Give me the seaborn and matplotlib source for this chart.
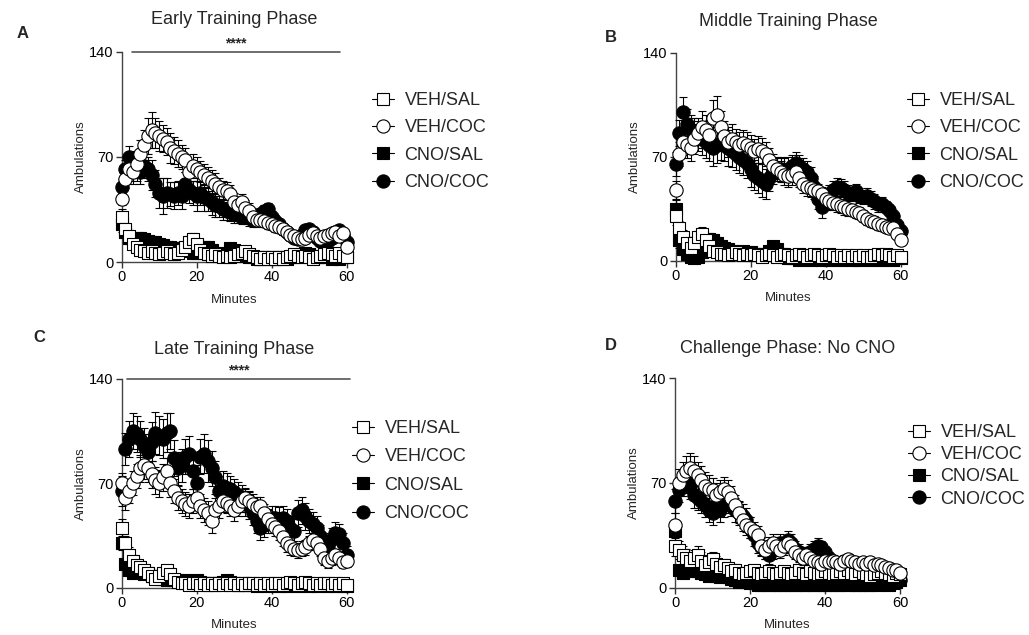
import numpy as np
import pandas as pd
import matplotlib
matplotlib.use("Agg")
import matplotlib.pyplot as plt
from matplotlib.lines import Line2D
import seaborn as sns

# ------------------------------------------------------------------
# data: ambulations per 1-min bin, mean and SEM
# ------------------------------------------------------------------
minutes = list(range(61))
groups = ["VEH/SAL", "VEH/COC", "CNO/SAL", "CNO/COC"]
phases = ["Early Training Phase", "Middle Training Phase",
          "Late Training Phase", "Challenge Phase: No CNO"]
panel_letters = ["A", "B", "C", "D"]
y_ticks = [0, 70, 140]
x_ticks = [0, 20, 40, 60]

# Early training
A_veh_sal = [30, 22, 17, 12, 10, 8, 7, 6, 7, 6,
             5, 6, 7, 6, 5, 6, 8, 10, 13, 15,
             12, 8, 6, 5, 4, 5, 4, 3, 4, 3,
             4, 5, 6, 7, 5, 4, 3, 2, 3, 2,
             3, 2, 3, 2, 3, 4, 5, 4, 3, 4,
             3, 2, 3, 4, 5, 6, 5, 4, 6, 4,
             3]
A_veh_coc = [42, 55, 62, 60, 65, 72, 78, 84, 88, 86,
             84, 82, 80, 76, 74, 72, 70, 68, 60, 64,
             62, 60, 58, 56, 54, 52, 50, 48, 47, 45,
             40, 38, 40, 36, 34, 30, 28, 28, 27, 26,
             25, 24, 23, 22, 20, 18, 17, 16, 15, 16,
             18, 19, 17, 16, 17, 18, 19, 20, 17, 19,
             10]
A_cno_sal = [25, 20, 16, 15, 16, 16, 15, 14, 13, 13,
             12, 11, 10, 10, 9, 9, 9, 8, 7, 6,
             6, 8, 10, 10, 8, 6, 5, 4, 6, 9,
             8, 6, 5, 4, 3, 3, 2, 2, 3, 3,
             2, 2, 3, 3, 2, 3, 3, 4, 5, 6,
             5, 4, 3, 3, 4, 3, 2, 3, 2, 3,
             3]
A_cno_coc = [50, 62, 70, 66, 62, 60, 64, 62, 58, 52,
             46, 44, 46, 45, 44, 46, 44, 52, 48, 46,
             44, 46, 43, 42, 40, 38, 37, 35, 34, 33,
             32, 31, 30, 30, 29, 28, 30, 32, 34, 35,
             30, 27, 25, 22, 20, 18, 16, 15, 18, 21,
             22, 20, 16, 14, 13, 14, 16, 20, 21, 18,
             13]
A_veh_sal_err = [5, 4, 4, 3, 3, 3, 3, 2, 3, 2,
                 2, 2, 3, 2, 2, 3, 3, 3, 4, 4,
                 3, 3, 2, 2, 2, 2, 2, 2, 2, 2,
                 2, 2, 3, 3, 2, 2, 2, 2, 2, 2,
                 2, 2, 2, 2, 2, 2, 2, 2, 2, 2,
                 2, 2, 2, 2, 2, 3, 2, 2, 3, 2,
                 2]
A_veh_coc_err = [4, 6, 8, 8, 8, 9, 10, 12, 12, 10,
                 10, 9, 9, 10, 9, 9, 8, 8, 8, 8,
                 8, 7, 7, 7, 7, 7, 6, 6, 6, 6,
                 6, 5, 5, 5, 5, 5, 5, 4, 4, 4,
                 4, 4, 4, 4, 3, 3, 3, 3, 3, 3,
                 3, 3, 3, 3, 3, 3, 3, 3, 3, 3,
                 3]
A_cno_sal_err = [5, 4, 4, 3, 3, 3, 3, 3, 3, 3,
                 3, 3, 3, 3, 2, 2, 2, 2, 2, 2,
                 2, 2, 3, 3, 2, 2, 2, 2, 2, 3,
                 3, 2, 2, 2, 2, 2, 1, 1, 1, 1,
                 1, 1, 1, 1, 1, 1, 1, 1, 2, 2,
                 2, 1, 1, 1, 1, 1, 1, 1, 1, 1,
                 1]
A_cno_coc_err = [5, 6, 7, 8, 8, 8, 8, 8, 10, 9,
                 10, 12, 10, 8, 9, 8, 9, 8, 9, 8,
                 10, 8, 9, 8, 9, 8, 7, 7, 6, 6,
                 6, 5, 5, 5, 5, 5, 4, 4, 4, 4,
                 4, 4, 3, 3, 3, 3, 3, 3, 3, 3,
                 3, 3, 3, 3, 3, 3, 3, 3, 3, 3,
                 3]

# Middle training
B_veh_sal = [30, 22, 16, 12, 9, 12, 16, 18, 14, 10,
             7, 6, 5, 5, 4, 5, 6, 5, 4, 5,
             4, 5, 4, 3, 4, 5, 4, 3, 4, 5,
             4, 3, 4, 5, 4, 3, 4, 5, 4, 3,
             4, 5, 4, 3, 4, 3, 4, 3, 4, 3,
             4, 3, 3, 4, 5, 4, 5, 4, 3, 4,
             3]
B_veh_coc = [48, 72, 80, 78, 76, 82, 86, 90, 88, 85,
             96, 98, 90, 84, 80, 82, 80, 78, 79, 78,
             76, 74, 75, 74, 72, 68, 64, 62, 60, 58,
             57, 58, 60, 56, 52, 50, 49, 48, 47, 45,
             42, 40, 39, 38, 37, 36, 35, 34, 33, 32,
             30, 28, 27, 26, 25, 24, 23, 22, 22, 18,
             14]
B_cno_sal = [35, 14, 8, 5, 3, 2, 3, 6, 12, 15,
             14, 12, 10, 9, 8, 7, 6, 6, 7, 6,
             6, 5, 5, 4, 5, 7, 10, 8, 5, 3,
             2, 2, 2, 1, 2, 2, 1, 2, 2, 1,
             2, 1, 2, 2, 1, 2, 2, 1, 2, 1,
             2, 2, 1, 2, 2, 1, 2, 2, 1, 2,
             2]
B_cno_coc = [65, 86, 100, 92, 88, 86, 84, 82, 80, 78,
             76, 78, 80, 78, 76, 74, 72, 70, 68, 66,
             62, 58, 56, 54, 52, 56, 60, 62, 62, 61,
             62, 64, 66, 64, 62, 60, 56, 50, 42, 36,
             40, 45, 48, 50, 49, 48, 46, 45, 47, 44,
             43, 44, 42, 40, 38, 38, 36, 34, 30, 24,
             20]
B_veh_sal_err = [6, 5, 5, 4, 4, 4, 4, 5, 4, 3,
                 3, 2, 2, 2, 2, 2, 2, 2, 2, 2,
                 2, 2, 2, 2, 2, 2, 2, 2, 2, 2,
                 2, 2, 2, 2, 2, 2, 2, 2, 2, 2,
                 2, 2, 2, 2, 2, 2, 2, 2, 2, 2,
                 2, 2, 2, 2, 2, 2, 2, 2, 2, 2,
                 2]
B_veh_coc_err = [6, 8, 9, 9, 9, 10, 10, 11, 10, 10,
                 12, 13, 11, 10, 10, 10, 9, 9, 9, 9,
                 9, 8, 9, 9, 8, 8, 8, 7, 7, 7,
                 7, 7, 7, 6, 6, 6, 6, 6, 5, 5,
                 5, 5, 5, 5, 5, 5, 5, 4, 4, 4,
                 4, 4, 4, 4, 4, 4, 3, 3, 3, 3,
                 3]
B_cno_sal_err = [6, 5, 4, 3, 2, 2, 2, 3, 4, 4,
                 4, 4, 3, 3, 3, 3, 2, 2, 2, 2,
                 2, 2, 2, 2, 2, 2, 3, 3, 2, 2,
                 1, 1, 1, 1, 1, 1, 1, 1, 1, 1,
                 1, 1, 1, 1, 1, 1, 1, 1, 1, 1,
                 1, 1, 1, 1, 1, 1, 1, 1, 1, 1,
                 1]
B_cno_coc_err = [8, 9, 10, 10, 10, 10, 10, 11, 11, 11,
                 12, 12, 12, 11, 12, 11, 11, 11, 10, 10,
                 12, 10, 10, 11, 10, 9, 8, 8, 8, 8,
                 8, 7, 7, 7, 7, 7, 7, 7, 7, 7,
                 6, 6, 6, 6, 6, 6, 5, 5, 5, 5,
                 5, 5, 5, 5, 5, 5, 4, 4, 4, 4,
                 4]

# Late training
C_veh_sal = [40, 30, 22, 18, 15, 14, 12, 10, 8, 6,
             8, 10, 12, 9, 6, 4, 3, 3, 2, 3,
             3, 2, 3, 2, 3, 2, 3, 2, 3, 2,
             3, 2, 3, 2, 3, 3, 2, 3, 2, 3,
             2, 3, 3, 2, 3, 4, 3, 2, 3, 4,
             3, 2, 3, 2, 3, 3, 2, 3, 2, 3,
             2]
C_veh_coc = [70, 60, 65, 70, 75, 80, 82, 80, 76, 72,
             70, 74, 78, 70, 65, 60, 58, 56, 55, 58,
             60, 55, 52, 50, 45, 52, 55, 58, 57, 55,
             52, 55, 58, 60, 58, 56, 54, 55, 50, 46,
             43, 41, 38, 34, 30, 28, 26, 25, 26, 27,
             30, 32, 30, 26, 20, 18, 20, 22, 20, 17,
             18]
C_cno_sal = [30, 16, 12, 10, 12, 11, 9, 10, 8, 7,
             6, 6, 5, 6, 5, 5, 4, 5, 4, 4,
             5, 4, 3, 3, 2, 3, 3, 4, 5, 4,
             3, 2, 2, 3, 2, 2, 1, 2, 2, 1,
             2, 2, 1, 2, 1, 2, 2, 1, 2, 2,
             1, 2, 1, 2, 2, 1, 2, 1, 2, 1,
             1]
C_cno_coc = [65, 93, 100, 105, 103, 100, 95, 91, 98, 104,
             102, 100, 104, 105, 87, 80, 82, 88, 90, 78,
             70, 88, 90, 85, 80, 74, 65, 68, 67, 66,
             64, 62, 60, 57, 55, 50, 45, 40, 42, 45,
             47, 47, 46, 47, 45, 40, 38, 50, 52, 48,
             45, 43, 40, 35, 30, 28, 33, 37, 36, 30,
             22]
C_veh_sal_err = [6, 5, 5, 4, 4, 3, 3, 3, 3, 3,
                 3, 3, 3, 3, 2, 2, 2, 2, 1, 1,
                 1, 1, 1, 1, 1, 1, 1, 1, 1, 1,
                 1, 1, 1, 1, 1, 1, 1, 1, 1, 1,
                 1, 1, 1, 1, 1, 1, 1, 1, 1, 1,
                 1, 1, 1, 1, 1, 1, 1, 1, 1, 1,
                 1]
C_veh_coc_err = [7, 8, 8, 8, 8, 9, 9, 9, 9, 9,
                 9, 9, 9, 9, 8, 8, 8, 8, 8, 8,
                 8, 8, 8, 8, 8, 8, 8, 7, 7, 7,
                 7, 7, 7, 7, 7, 7, 7, 6, 6, 6,
                 6, 6, 6, 6, 6, 6, 5, 5, 5, 5,
                 5, 5, 5, 5, 5, 5, 5, 4, 4, 4,
                 4]
C_cno_sal_err = [5, 4, 3, 3, 3, 3, 3, 3, 2, 2,
                 2, 2, 2, 2, 2, 2, 2, 2, 2, 2,
                 2, 1, 1, 1, 1, 1, 1, 1, 1, 1,
                 1, 1, 1, 1, 1, 1, 1, 1, 1, 1,
                 1, 1, 1, 1, 1, 1, 1, 1, 1, 1,
                 1, 1, 1, 1, 1, 1, 1, 1, 1, 1,
                 1]
C_cno_coc_err = [10, 11, 12, 12, 12, 12, 12, 12, 13, 14,
                 13, 13, 13, 12, 12, 11, 11, 12, 12, 12,
                 12, 12, 13, 14, 12, 11, 10, 10, 10, 9,
                 9, 9, 9, 9, 9, 8, 8, 8, 8, 8,
                 8, 8, 8, 8, 8, 8, 8, 9, 9, 9,
                 8, 8, 8, 7, 7, 7, 7, 7, 7, 7,
                 6]

# Challenge (no CNO)
D_veh_sal = [28, 25, 22, 20, 18, 20, 22, 18, 15, 17,
             19, 16, 14, 15, 13, 11, 12, 10, 9, 10,
             11, 12, 10, 9, 10, 11, 10, 9, 10, 11,
             10, 9, 10, 12, 10, 9, 11, 10, 9, 10,
             11, 10, 9, 10, 11, 10, 12, 10, 9, 11,
             10, 9, 8, 9, 10, 11, 10, 9, 8, 10,
             9]
D_veh_coc = [42, 70, 75, 78, 80, 78, 75, 72, 68, 66,
             65, 62, 64, 66, 64, 60, 55, 50, 45, 42,
             40, 38, 35, 28, 25, 28, 30, 28, 25, 28,
             30, 28, 24, 22, 20, 22, 20, 18, 17, 16,
             18, 17, 18, 17, 16, 18, 19, 18, 17, 16,
             17, 16, 17, 15, 16, 15, 14, 13, 12, 12,
             10]
D_cno_sal = [38, 12, 10, 12, 11, 12, 11, 10, 9, 8,
             9, 8, 7, 8, 7, 6, 5, 4, 5, 4,
             3, 3, 2, 2, 3, 2, 2, 3, 2, 2,
             3, 2, 2, 3, 2, 2, 3, 2, 2, 3,
             2, 2, 3, 2, 2, 3, 2, 3, 2, 2,
             3, 2, 2, 3, 2, 3, 3, 2, 3, 4,
             5]
D_cno_coc = [58, 65, 70, 72, 68, 62, 60, 58, 55, 52,
             50, 55, 52, 55, 58, 56, 52, 50, 48, 45,
             40, 35, 30, 27, 25, 22, 25, 28, 30, 28,
             32, 30, 26, 24, 22, 22, 24, 26, 28, 27,
             24, 20, 18, 16, 15, 14, 13, 12, 12, 11,
             10, 10, 9, 9, 8, 8, 7, 7, 6, 6,
             5]
D_veh_sal_err = [7, 6, 6, 6, 5, 5, 6, 6, 5, 5,
                 5, 5, 4, 4, 4, 4, 4, 4, 3, 3,
                 3, 3, 3, 3, 3, 3, 3, 3, 3, 3,
                 3, 3, 3, 3, 3, 3, 3, 3, 3, 3,
                 3, 3, 3, 3, 3, 3, 3, 3, 3, 3,
                 3, 3, 3, 3, 3, 3, 3, 3, 3, 3,
                 3]
D_veh_coc_err = [8, 9, 9, 10, 10, 10, 9, 9, 9, 9,
                 8, 8, 8, 8, 8, 8, 7, 7, 7, 7,
                 7, 6, 6, 6, 6, 6, 6, 6, 5, 5,
                 5, 5, 5, 5, 5, 5, 4, 4, 4, 4,
                 4, 4, 4, 4, 4, 4, 3, 3, 3, 3,
                 3, 3, 3, 3, 3, 3, 3, 3, 3, 3,
                 3]
D_cno_sal_err = [5, 3, 3, 3, 3, 3, 3, 3, 3, 2,
                 2, 2, 2, 2, 2, 2, 2, 2, 2, 2,
                 1, 1, 1, 1, 1, 1, 1, 1, 1, 1,
                 1, 1, 1, 1, 1, 1, 1, 1, 1, 1,
                 1, 1, 1, 1, 1, 1, 1, 1, 1, 1,
                 1, 1, 1, 1, 1, 1, 1, 1, 1, 1,
                 1]
D_cno_coc_err = [8, 8, 9, 9, 9, 9, 8, 8, 8, 8,
                 8, 8, 8, 8, 8, 8, 8, 8, 8, 8,
                 7, 7, 7, 6, 6, 6, 6, 6, 6, 6,
                 6, 6, 5, 5, 5, 5, 5, 5, 5, 4,
                 4, 4, 4, 4, 4, 4, 4, 3, 3, 3,
                 3, 3, 3, 3, 3, 3, 3, 3, 3, 3,
                 3]

# significance bars: (x start, x end, label) or None
sig_bars = [(2.7, 58.2, "****"), None, (1.3, 61.0, "****"), None]

# ------------------------------------------------------------------
# long-form table
# ------------------------------------------------------------------
series = {
    phases[0]: [(A_veh_sal, A_veh_sal_err), (A_veh_coc, A_veh_coc_err),
                (A_cno_sal, A_cno_sal_err), (A_cno_coc, A_cno_coc_err)],
    phases[1]: [(B_veh_sal, B_veh_sal_err), (B_veh_coc, B_veh_coc_err),
                (B_cno_sal, B_cno_sal_err), (B_cno_coc, B_cno_coc_err)],
    phases[2]: [(C_veh_sal, C_veh_sal_err), (C_veh_coc, C_veh_coc_err),
                (C_cno_sal, C_cno_sal_err), (C_cno_coc, C_cno_coc_err)],
    phases[3]: [(D_veh_sal, D_veh_sal_err), (D_veh_coc, D_veh_coc_err),
                (D_cno_sal, D_cno_sal_err), (D_cno_coc, D_cno_coc_err)],
}
frames = []
for phase, lst in series.items():
    for g, (m, e) in zip(groups, lst):
        frames.append(pd.DataFrame({"Minutes": minutes, "Ambulations": m,
                                    "sem": e, "group": g, "phase": phase}))
df = pd.concat(frames, ignore_index=True)

# ------------------------------------------------------------------
# style
# ------------------------------------------------------------------
sns.set_style("ticks")
plt.rcParams["font.family"] = ["Liberation Sans", "DejaVu Sans"]
plt.rcParams["axes.linewidth"] = 1.0

face = {"VEH/SAL": "white", "VEH/COC": "white", "CNO/SAL": "black", "CNO/COC": "black"}
mark = {"VEH/SAL": "s", "VEH/COC": "o", "CNO/SAL": "s", "CNO/COC": "o"}
size = {"s": 72, "o": 92}
draw_order = ["CNO/SAL", "CNO/COC", "VEH/SAL", "VEH/COC"]

fig = plt.figure(figsize=(10.29, 6.35), dpi=100)
W, H = 1029, 635
# axes boxes in pixels: left, top, right, bottom
boxes = [(121.7, 51.7, 346.7, 262.0), (675.7, 52.7, 900.7, 261.0),
         (121.7, 379.0, 346.7, 587.7), (675.0, 378.0, 900.0, 587.7)]
letter_pos = [(17, 33), (605, 37), (33, 338), (605, 345)]
title_y = [20, 22, 350, 348]
leg_anchor = [(372, 92), (907, 92), (352, 420), (908, 424)]
leg_spacing = [0.57, 0.57, 0.63, 0.29]

for i, phase in enumerate(phases):
    l, t, r, b = boxes[i]
    ax = fig.add_axes([l / W, 1 - b / H, (r - l) / W, (b - t) / H])
    sub = df[df.phase == phase]
    z = 3
    for g in draw_order:
        d = sub[sub.group == g]
        ax.errorbar(d["Minutes"], d["Ambulations"], yerr=d["sem"], fmt="none",
                    ecolor="black", elinewidth=0.8, capsize=3, capthick=0.8,
                    zorder=z, clip_on=False)
        sns.scatterplot(data=d, x="Minutes", y="Ambulations", ax=ax,
                        marker=mark[g], color=face[g], edgecolor="black",
                        linewidth=0.8, s=size[mark[g]], zorder=z + 1,
                        clip_on=False, legend=False)
        z += 2

    ax.set_xlim(0, 60)
    ax.set_ylim(0, 140)
    ax.set_xticks(x_ticks)
    ax.set_yticks(y_ticks)
    ax.tick_params(labelsize=10.5, length=4, width=1, pad=2, colors="#333333",
                   labelcolor="black")
    for sp in ["left", "bottom"]:
        ax.spines[sp].set_color("#444444")
    sns.despine(ax=ax)
    ax.set_xlabel("Minutes", fontsize=9.5)
    ax.set_ylabel("Ambulations", fontsize=9.5)
    ax.xaxis.set_label_coords(0.5, -0.15)
    ax.yaxis.set_label_coords(-0.155, 0.5)

    fig.text(((l + r) / 2) / W, 1 - title_y[i] / H, phase, ha="center",
             va="center", fontsize=13)
    fig.text(letter_pos[i][0] / W, 1 - letter_pos[i][1] / H, panel_letters[i],
             ha="left", va="center", fontsize=12, fontweight="bold")

    if sig_bars[i] is not None:
        x0, x1, lab = sig_bars[i]
        ax.plot([x0, x1], [140, 140], color="#555555", lw=1.2, clip_on=False)
        ax.text((x0 + x1) / 2, 141, lab, ha="center", va="bottom",
                fontsize=10, fontweight="bold")

    handles = [Line2D([], [], color="black", lw=0.8, marker=mark[g],
                      markerfacecolor=face[g], markeredgecolor="black",
                      markeredgewidth=0.8, markersize=9.5 if mark[g] == "o" else 9)
               for g in groups]
    ax.legend(handles, groups, loc="upper left",
              bbox_to_anchor=(leg_anchor[i][0] / W, 1 - leg_anchor[i][1] / H),
              bbox_transform=fig.transFigure, frameon=False, fontsize=13,
              handlelength=1.2, handletextpad=0.6, borderpad=0, borderaxespad=0,
              labelspacing=leg_spacing[i])

fig.savefig("out.png", dpi=100)
